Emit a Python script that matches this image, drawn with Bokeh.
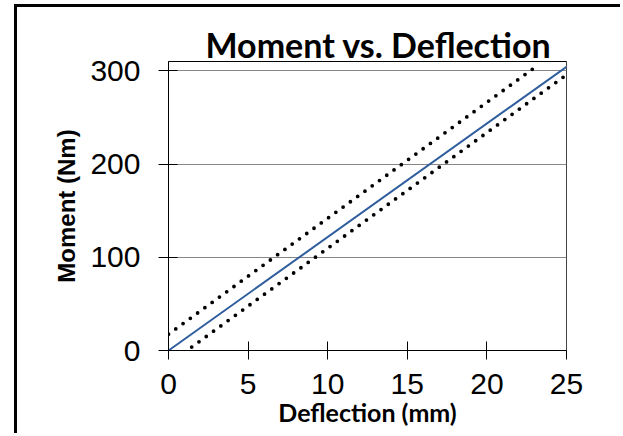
from bokeh.plotting import figure
from bokeh.models import Range1d, FixedTicker, Span
from bokeh.embed import file_html
from bokeh.resources import INLINE

# ---- data ----
x_ticks = [0, 5, 10, 15, 20, 25]
y_ticks = [0, 100, 200, 300]

deflection_fit = [0.0, 25.3]
moment_fit = [0.0, 308.0]

deflection_upper = [0.0, 23.2]
moment_upper = [17.5, 306.0]

deflection_lower = [1.0, 25.1]
moment_lower = [-2.0, 297.0]

title_text = "Moment vs. Deflection"
x_label = "Deflection (mm)"
y_label = "Moment (Nm)"

p = figure(width=606, height=429, output_backend="svg", toolbar_location=None,
           x_range=Range1d(0, 25), y_range=Range1d(0, 310),
           min_border_left=151, min_border_right=57,
           min_border_top=54, min_border_bottom=86)
p.styles = {"position": "relative", "left": "14px", "top": "4px",
            "border-left": "3px solid black", "border-top": "3px solid black"}

p.title.text = title_text
p.title.text_font = "Lato"
p.title.text_font_style = "bold"
p.title.text_font_size = "34px"
p.title.align = "left"
p.title.offset = 37
p.title.standoff = -7
p.title.text_color = "black"

p.background_fill_color = "white"
p.border_fill_color = "white"
p.outline_line_color = "black"
p.outline_line_width = 1

p.xgrid.grid_line_color = None
p.ygrid.grid_line_color = "#868686"
p.ygrid.grid_line_width = 1
p.ygrid.ticker = FixedTicker(ticks=y_ticks)

for ax in (p.xaxis[0], p.yaxis[0]):
    ax.axis_line_color = "black"
    ax.axis_line_width = 1
    ax.major_tick_line_color = "black"
    ax.minor_tick_line_color = None
    ax.major_label_text_font = "Liberation Sans"
    ax.major_label_text_font_size = "30px"
    ax.major_label_text_color = "black"
    ax.axis_label_text_font_style = "bold"
    ax.axis_label_text_color = "black"

p.xaxis.ticker = FixedTicker(ticks=x_ticks)
p.yaxis.ticker = FixedTicker(ticks=y_ticks)
p.xaxis.major_tick_in = 9
p.xaxis.major_tick_out = 9
p.yaxis.major_tick_in = 9
p.yaxis.major_tick_out = 10
p.xaxis.major_label_standoff = 14
p.yaxis.major_label_standoff = 18

p.xaxis.axis_label = x_label
p.xaxis.axis_label_text_font = "Lato"
p.xaxis.axis_label_text_font_size = "25px"
p.xaxis.axis_label_standoff = 0

p.yaxis.axis_label = y_label
p.yaxis.axis_label_text_font = "Liberation Sans"
p.yaxis.axis_label_text_font_size = "24px"
p.yaxis.axis_label_standoff = 7

p.add_layout(Span(location=25, dimension="height", line_color="#868686", line_width=1))

p.line(deflection_upper, moment_upper, line_color="black", line_width=3.8,
       line_dash="0 9", line_cap="round")
p.line(deflection_lower, moment_lower, line_color="black", line_width=3.8,
       line_dash="0 9", line_cap="round")
p.line(deflection_fit, moment_fit, line_color="#2F5D9E", line_width=2)

open("out.html", "w").write(file_html(p, INLINE))
